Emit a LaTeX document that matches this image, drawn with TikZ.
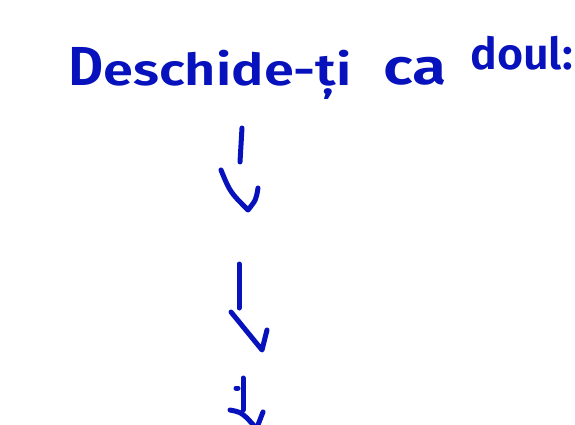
\documentclass[tikz,border=0pt]{standalone}
\usepackage{fontspec}
\setmainfont{Fira Sans}[BoldFont={Fira Sans SemiBold}]
\definecolor{handblue}{RGB}{8,18,188}
\begin{document}
\begin{tikzpicture}[x=1pt,y=-1pt,
  handtext/.style={inner sep=0pt,anchor=base west,text=handblue,font=\bfseries},
  pen/.style={draw=handblue,line width=5pt,line cap=round,line join=round}]
\useasboundingbox (0,0) rectangle (575,425);
\clip (0,0) rectangle (575,425);
\fill[white] (0,0) rectangle (575,425);
% text
\node[handtext] (t1) at (68,86) {\fontsize{44}{44}\selectfont\scalebox{1.23}[1]{\scalebox{1}[1.25]{D}eschide-ți}};
\node[handtext] (t2) at (383,85) {\fontsize{50}{50}\selectfont\scalebox{1.25}[1]{ca}};
\node[handtext] (t3) at (470,70) {\fontsize{40}{40}\selectfont\scalebox{1.12}[1.1]{doul:}};
% arrow 1
\draw[pen] (242,128) -- (240,162);
\draw[pen] (221,170) .. controls (230,192) .. (248,210) .. controls (256,200) .. (258,188);
% arrow 2
\draw[pen] (239,264) -- (239,308);
\draw[pen] (231,312) -- (262,350) -- (267,330);
% arrow 3
\draw[pen] (243,378) -- (243,410);
\draw[pen] (236,388) -- (238,388);
\draw[pen] (230,410) .. controls (240,412) .. (247,418) -- (258,430);
\draw[pen] (263,412) -- (256,430);
\end{tikzpicture}
\end{document}
